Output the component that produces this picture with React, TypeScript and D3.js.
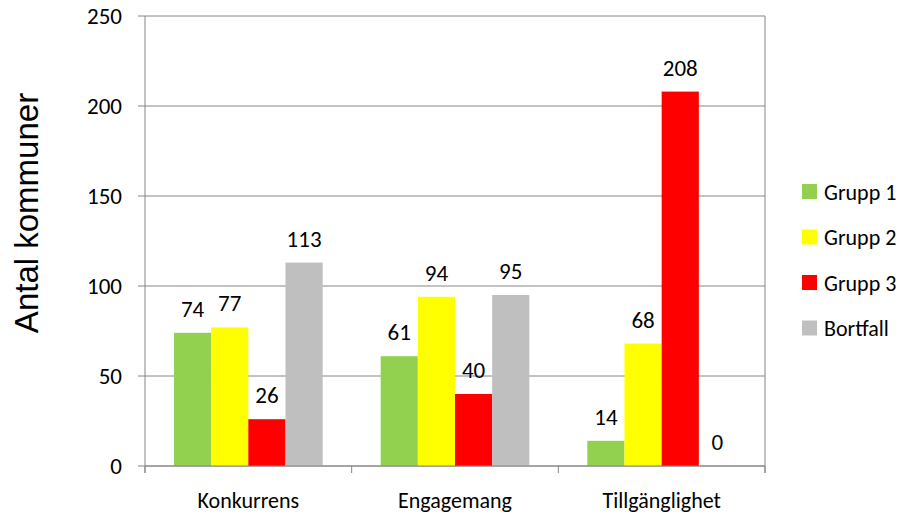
import React from 'react';
import * as d3 from 'd3';

const categories = ['Konkurrens', 'Engagemang', 'Tillgänglighet'];
const seriesNames = ['Grupp 1', 'Grupp 2', 'Grupp 3', 'Bortfall'];
const grupp1 = [74, 61, 14];
const grupp2 = [77, 94, 68];
const grupp3 = [26, 40, 208];
const bortfall = [113, 95, 0];
const yTicks = [0, 50, 100, 150, 200, 250];
const colors = ['#92D050', '#FFFF00', '#FF0000', '#BFBFBF'];

const W = 902;
const H = 515;
const plot = { left: 145, right: 765, top: 16, bottom: 466 };
const font = "Carlito, 'Open Sans', 'Liberation Sans', sans-serif";

export default function App() {
  const values = [grupp1, grupp2, grupp3, bortfall];

  const x0 = d3.scaleBand<string>().domain(categories).range([plot.left, plot.right]).padding(0);
  const x1 = d3
    .scaleBand<string>()
    .domain(seriesNames)
    .range([0, x0.bandwidth()])
    .paddingInner(0)
    .paddingOuter(0.78);
  const y = d3.scaleLinear().domain([0, 250]).range([plot.bottom, plot.top]);

  const axisColor = '#868686';
  const boundaries = [plot.left, ...categories.map((c) => (x0(c) as number) + x0.bandwidth())];

  return (
    <svg width={W} height={H} style={{ position: 'absolute', left: 0, top: 0, background: '#fff' }}>
      {/* gridlines */}
      {yTicks.map((t) => (
        <line key={t} x1={plot.left - 7} x2={plot.right} y1={y(t)} y2={y(t)} stroke={axisColor} strokeWidth={1} />
      ))}
      {/* y axis line */}
      <line x1={plot.left} x2={plot.left} y1={plot.top} y2={plot.bottom + 7} stroke={axisColor} />
      {/* right border */}
      <line x1={plot.right} x2={plot.right} y1={plot.top} y2={plot.bottom + 7} stroke={axisColor} />
      {/* category ticks */}
      {boundaries.map((b, i) => (
        <line key={i} x1={b} x2={b} y1={plot.bottom} y2={plot.bottom + 7} stroke={axisColor} />
      ))}
      {/* y tick labels */}
      {yTicks.map((t) => (
        <text key={t} x={122} y={y(t)} dy="0.35em" textAnchor="end" fontSize={23} fontFamily={font} fill="#000">
          {t}
        </text>
      ))}
      {/* y axis title */}
      <text
        transform={`translate(38, 213) rotate(-90)`}
        textAnchor="middle"
        fontSize={33}
        fontFamily="'Liberation Sans', Arial, sans-serif"
        fill="#000"
      >
        Antal kommuner
      </text>
      {/* bars */}
      {categories.map((c, ci) => (
        <g key={c} transform={`translate(${x0(c)},0)`}>
          {seriesNames.map((s, si) => {
            const v = values[si][ci];
            const bx = x1(s) as number;
            return (
              <g key={s}>
                <rect x={bx} y={y(v)} width={x1.bandwidth()} height={plot.bottom - y(v)} fill={colors[si]} />
                <text
                  x={bx + x1.bandwidth() / 2}
                  y={y(v) - 16}
                  textAnchor="middle"
                  fontSize={23}
                  fontFamily={font}
                  fill="#000"
                >
                  {v}
                </text>
              </g>
            );
          })}
          <text
            x={x0.bandwidth() / 2}
            y={508}
            textAnchor="middle"
            fontSize={22}
            fontFamily={font}
            fill="#000"
          >
            {c}
          </text>
        </g>
      ))}
      {/* redraw x axis on top */}
      <line x1={plot.left} x2={plot.right} y1={plot.bottom} y2={plot.bottom} stroke={axisColor} />
      {/* legend */}
      {seriesNames.map((s, i) => {
        const cy = 192 + i * 45.5;
        return (
          <g key={s}>
            <rect x={802} y={cy - 8} width={15} height={15} fill={colors[i]} />
            <text x={824} y={cy} dy="0.35em" fontSize={22} fontFamily={font} fill="#000">
              {s}
            </text>
          </g>
        );
      })}
    </svg>
  );
}
